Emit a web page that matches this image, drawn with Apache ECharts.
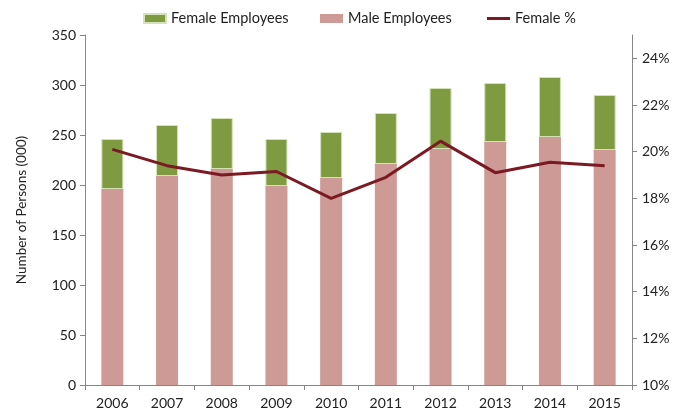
<!DOCTYPE html>
<html>
<head>
<meta charset="utf-8">
<script src="https://cdn.jsdelivr.net/npm/echarts@6/dist/echarts.min.js"></script>
<style>
  html, body { margin: 0; padding: 0; background: #fff; }
  #chart { width: 683px; height: 411px; }
</style>
</head>
<body>
<div id="chart"></div>
<script>
const years = ['2006', '2007', '2008', '2009', '2010', '2011', '2012', '2013', '2014', '2015']
const maleEmployees = [196, 209, 216, 199, 207, 221, 236, 243, 248, 235]
const femaleEmployees = [50, 51, 51, 47, 46, 51, 61, 59, 60, 55]
const femalePct = [20.1, 19.4, 19.0, 19.15, 18.0, 18.9, 20.45, 19.1, 19.55, 19.4]

const font = 'Lato, "Open Sans", sans-serif'
const axisGrey = '#868686'
const green = '#7f9b42'
const pink = '#cd9a96'
const lineRed = '#7b1a22'

let myChart = echarts.init(document.getElementById('chart'))

const legendText = { fontSize: 14.5, color: '#222', fontFamily: font }

let option = {
  animation: false,
  textStyle: { fontFamily: font },
  grid: { left: 85, right: 51, top: 35, bottom: 26 },
  legend: [
    {
      left: 143, top: 11, padding: 0,
      data: ['Female Employees'],
      itemWidth: 22, itemHeight: 9, icon: 'rect',
      textStyle: legendText
    },
    {
      left: 320, top: 11, padding: 0,
      data: ['Male Employees'],
      itemWidth: 23, itemHeight: 9, icon: 'rect',
      textStyle: legendText
    },
    {
      left: 487, top: 11, padding: 0,
      data: ['Female %'],
      itemWidth: 23, itemHeight: 3, icon: 'rect',
      textStyle: legendText
    }
  ],
  xAxis: {
    type: 'category',
    data: years,
    axisLine: { lineStyle: { color: axisGrey, width: 1 } },
    axisTick: { show: true, length: 5, lineStyle: { color: axisGrey } },
    axisLabel: { color: '#222', fontSize: 14, margin: 11, fontFamily: font }
  },
  yAxis: [
    {
      type: 'value',
      min: 0, max: 350, interval: 50,
      name: 'Number of Persons (000)',
      nameLocation: 'middle',
      nameGap: 56,
      nameTextStyle: { fontSize: 13.5, color: '#222', fontFamily: font },
      axisLine: { show: true, lineStyle: { color: axisGrey } },
      axisTick: { show: true, length: 5, lineStyle: { color: axisGrey } },
      axisLabel: { color: '#222', fontSize: 14, margin: 9, fontFamily: font },
      splitLine: { show: false }
    },
    {
      type: 'value',
      position: 'right',
      min: 10, max: 25, interval: 2,
      axisLine: { show: true, lineStyle: { color: axisGrey } },
      axisTick: { show: true, length: 5, lineStyle: { color: axisGrey } },
      axisLabel: {
        color: '#222', fontSize: 14, margin: 10, fontFamily: font,
        showMaxLabel: false,
        formatter: '{value}%'
      },
      splitLine: { show: false }
    }
  ],
  series: [
    {
      name: 'Male Employees',
      type: 'bar',
      stack: 'total',
      barWidth: 22,
      data: maleEmployees,
      itemStyle: { color: pink }
    },
    {
      name: 'Female Employees',
      type: 'bar',
      stack: 'total',
      barWidth: 22,
      data: femaleEmployees,
      itemStyle: { color: green, borderColor: '#d5e2b8', borderWidth: 1 }
    },
    {
      name: 'Female %',
      type: 'line',
      yAxisIndex: 1,
      data: femalePct,
      showSymbol: false,
      symbol: 'none',
      lineStyle: { color: lineRed, width: 3 },
      itemStyle: { color: lineRed },
      z: 5
    }
  ]
}
myChart.setOption(option)
</script>
</body>
</html>
